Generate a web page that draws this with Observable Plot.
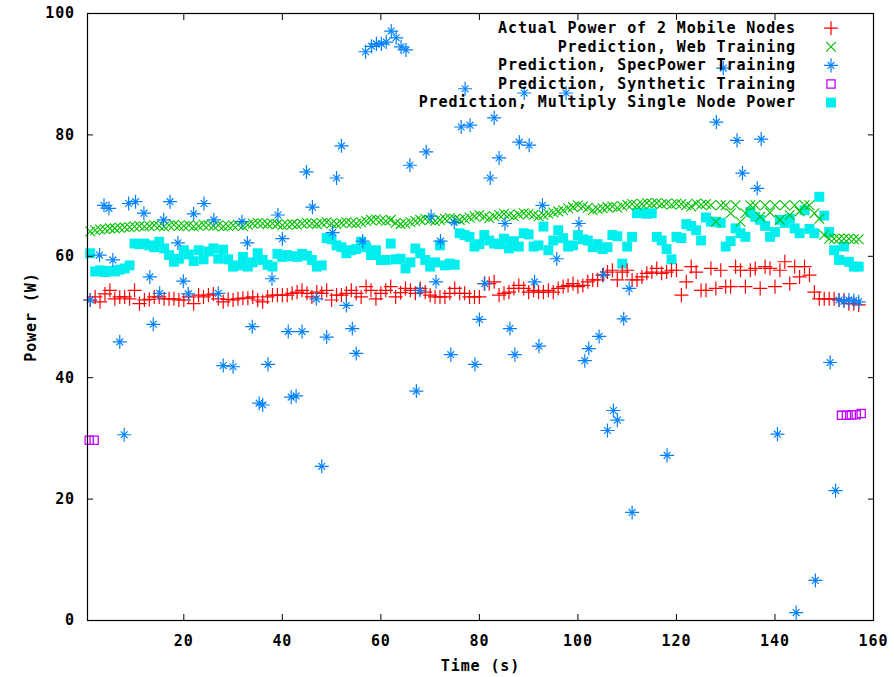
<!DOCTYPE html>
<html>
<head>
<meta charset="utf-8">
<script src="https://cdn.jsdelivr.net/npm/d3@7"></script>
<script src="https://cdn.jsdelivr.net/npm/@observablehq/plot@0.6"></script>
<style>
  html, body { margin: 0; padding: 0; background: #fff; }
  #chart svg text { font-family: "DejaVu Sans Mono", monospace; font-weight: bold; font-size: 15px; letter-spacing: 0.9px; fill: #000; }
</style>
</head>
<body>
<div id="chart"></div>
<script>
// ---- tick labels ----
const xTicks = [20, 40, 60, 80, 100, 120, 140, 160];
const yTicks = [0, 20, 40, 60, 80, 100];

// ---- series names ----
const seriesNames = [
  "Actual Power of 2 Mobile Nodes",
  "Prediction, Web Training",
  "Prediction, SpecPower Training",
  "Prediction, Synthetic Training",
  "Prediction, Multiply Single Node Power"
];

// ---- Actual power (one sample per second, t = 1..157) ----
const actualPower = [
  52.8,53.3,52.5,53.8,54.4,53.0,53.3,53.3,53.0,54.4,52.2,52.8,52.9,53.3,53.3,53.0,
  53.0,53.0,52.8,52.8,53.3,52.2,53.6,53.3,53.6,53.8,53.0,52.5,52.9,52.8,53.0,53.1,
  53.1,53.3,52.8,52.5,53.3,53.6,53.6,53.6,53.6,53.9,54.1,54.4,53.9,53.3,54.1,53.9,
  54.4,52.8,53.6,53.6,53.9,54.4,53.9,53.3,55.0,54.4,53.0,53.9,54.4,55.0,53.3,54.0,
  54.7,54.4,53.9,54.7,54.1,53.6,53.3,53.3,53.3,53.9,54.7,53.9,53.9,53.3,53.3,53.3,
  55.5,55.5,55.8,53.6,53.9,54.1,54.7,55.2,54.7,54.1,54.4,54.1,54.1,54.4,54.1,54.7,
  55.0,55.2,55.5,55.0,55.2,55.8,56.1,56.1,56.9,57.4,57.7,56.1,57.4,57.7,56.1,56.1,
  56.6,57.2,57.4,58.0,57.2,57.4,57.7,57.7,53.6,55.8,58.3,57.4,54.4,54.4,
  58.0,54.7,57.7,55.0,55.0,58.3,57.7,55.0,57.7,58.0,54.7,58.3,58.0,55.0,57.7,59.1,
  55.5,58.3,56.6,58.3,56.9,54.1,53.0,53.0,53.0,53.0,52.8,52.8,52.2,52.2,52.0
];

// ---- Web training prediction (t = 1..157) ----
const webPrediction = [
  64.1,64.3,64.4,64.5,64.6,64.6,64.7,64.8,64.8,64.9,65.0,64.9,65.0,65.1,65.0,64.9,
  65.1,65.2,65.0,65.0,65.1,64.9,65.0,65.2,65.1,65.0,65.1,64.9,65.0,65.1,65.2,65.0,
  65.2,65.4,65.5,65.4,65.3,65.4,65.3,65.1,65.2,65.3,65.2,65.4,65.5,65.4,65.3,65.5,
  65.6,65.4,65.3,65.5,65.6,65.5,65.4,65.6,65.8,66.0,66.1,65.9,65.8,66.0,65.5,65.3,
  65.4,65.6,65.8,66.0,66.2,66.0,65.8,66.0,66.2,66.3,66.1,66.0,66.2,66.4,66.6,66.8,
  66.5,66.3,66.6,66.8,67.0,66.8,66.6,66.9,67.1,67.0,66.8,66.6,66.8,67.0,67.2,67.4,
  67.6,67.9,68.1,68.4,68.2,68.0,67.6,67.8,67.9,68.1,68.2,68.0,68.3,68.5,68.6,68.4,
  68.6,68.8,68.7,68.8,68.6,68.7,68.5,68.7,68.6,68.4,68.2,68.7,68.5,68.6,
  68.4,65.7,68.4,68.4,67.1,68.4,65.7,67.1,68.4,68.4,66.5,68.4,67.2,68.4,66.0,68.4,
  66.8,68.4,67.4,68.4,68.4,67.1,66.2,63.5,62.9,62.9,62.9,62.9,62.9,62.8,62.8
];

// ---- Multiply single node power prediction (t = 1..157) ----
const multiplyPrediction = [
  60.5,57.5,57.7,57.4,57.6,57.5,57.8,58.0,58.5,62.1,62.0,62.1,61.8,61.5,62.4,61.3,
  60.2,59.1,59.6,61.0,60.3,59.2,61.0,59.5,60.8,61.3,59.6,61.1,59.5,58.3,58.5,
  59.9,58.3,59.0,60.5,59.4,58.6,58.3,60.4,59.9,60.2,60.0,59.9,60.4,60.1,59.4,58.3,
  58.5,63.0,62.8,61.8,61.5,60.5,61.0,61.2,62.4,61.5,60.2,61.0,59.4,59.4,62.1,59.5,
  59.6,58.0,59.0,61.3,60.5,59.4,58.3,59.0,61.8,58.5,58.8,58.6,63.8,63.5,63.2,61.6,
  62.0,63.5,62.6,62.1,62.0,62.9,61.3,62.5,61.6,63.8,63.6,61.6,61.8,64.9,61.0,62.6,
  64.3,63.0,61.6,61.8,63.5,62.8,62.6,61.5,62.0,61.2,61.5,63.5,63.3,58.8,61.6,63.2,
  67.1,67.2,67.0,67.1,63.2,62.6,61.2,59.5,63.2,63.0,65.3,65.0,64.3,62.6,66.4,
  65.7,65.7,65.5,61.6,62.5,64.6,63.8,63.2,67.3,66.5,66.0,65.0,63.2,64.0,66.0,65.5,
  66.2,64.6,63.8,67.6,64.5,63.8,69.8,66.7,64.0,61.0,59.4,61.6,59.1,58.3,58.3
];

// ---- SpecPower training prediction (visible points) ----
const specTime = [
  1.0,2.9,3.8,4.8,5.6,7.0,7.9,8.8,10.2,11.9,13.1,13.8,15.1,15.9,17.2,18.8,19.9,20.9,
  22.0,24.1,26.1,27.0,28.0,30.0,31.8,32.9,33.9,35.3,36.0,37.1,37.9,39.1,40.0,41.2,
  41.8,42.8,44.0,44.9,46.1,46.9,48.0,49.0,50.2,51.0,52.0,53.0,54.2,55.0,56.3,
  56.9,58.1,59.1,60.1,61.1,62.1,63.1,64.1,65.1,
  65.9,67.2,67.9,69.2,70.2,71.2,72.1,74.2,74.9,76.3,77.1,78.1,79.1,80.0,81.1,82.2,
  83.0,84.0,85.2,86.2,87.2,88.1,89.1,90.1,91.2,92.1,92.8,95.7,97.6,
  100.2,101.4,102.2,104.3,105.2,106.0,107.2,108.0,109.3,110.4,111.0,118.1,
  128.1,129.5,132.3,133.4,136.4,137.2,140.5,144.3,148.2,151.2,152.3,
  153.0,154.0,155.0,156.0,157.0
];
const specPrediction = [
  52.8,60.2,68.4,67.9,59.4,45.9,30.6,68.7,69.0,67.1,56.6,48.8,53.9,66.0,69.0,62.2,55.9,53.8,
  67.0,68.7,66.0,53.9,42.0,41.8,65.7,62.2,48.4,35.8,35.5,42.2,56.3,66.8,62.9,47.6,
  36.8,37.0,47.6,73.9,68.1,53.0,25.4,46.7,63.9,72.9,78.2,51.9,48.1,44.0,62.5,
  93.7,94.6,95.0,95.0,95.3,97.1,96.0,94.5,94.0,
  75.0,37.8,54.4,77.2,66.6,55.8,62.5,43.8,65.6,81.3,87.6,81.6,42.2,49.6,55.5,72.9,
  82.8,76.2,65.4,48.1,43.8,78.8,86.9,78.3,55.8,45.2,68.4,59.6,86.9,
  65.4,42.8,44.8,46.8,57.0,31.3,34.6,33.0,49.7,54.7,17.8,27.2,
  82.1,91.0,79.1,73.7,71.2,79.3,30.7,1.3,6.6,42.5,21.4,
  52.8,52.6,52.8,52.7,52.5
];

// ---- Synthetic training prediction (visible points) ----
const synthTime = [0.8, 1.8, 153.5, 154.5, 155.5, 156.5, 157.5];
const synthPrediction = [29.7, 29.7, 33.8, 33.8, 33.9, 33.9, 34.1];

// ---- tables ----
const seq = (arr) => arr.map((v, i) => ({t: i + 1, v}));
const actualData = seq(actualPower);
const webData = seq(webPrediction);
const multData = seq(multiplyPrediction);
const specData = specTime.map((t, i) => ({t, v: specPrediction[i]}));
const synthData = synthTime.map((t, i) => ({t, v: synthPrediction[i]}));

const RED = "#ff0000", GREEN = "#00c000", BLUE = "#0080ff", MAGENTA = "#c000ff", CYAN = "#00eeee";
const PLUS_R = 4.6, TIMES_R = 4.5, STAR_X_R = 3.2, SQ_R = 5.6, OSQ_R = 5.2;

// legend marks (placed relative to the frame corner)
const legendX = -77.5, legendSym = -42.5, legendY0 = 14.7, legendStep = 18.6;
const ly = (i) => legendY0 + legendStep * i;
const legendMarks = [];
seriesNames.forEach((name, i) => {
  legendMarks.push(Plot.text([name], {text: d => d, frameAnchor: "top-right", dx: legendX, dy: ly(i), textAnchor: "end", lineAnchor: "middle"}));
});
legendMarks.push(
  Plot.dot([0], {frameAnchor: "top-right", dx: legendSym, dy: ly(0), symbol: "plus", r: PLUS_R, stroke: RED, strokeWidth: 1.2}),
  Plot.dot([0], {frameAnchor: "top-right", dx: legendSym, dy: ly(1), symbol: "times", r: TIMES_R, stroke: GREEN, strokeWidth: 1.1}),
  Plot.dot([0], {frameAnchor: "top-right", dx: legendSym, dy: ly(2), symbol: "plus", r: PLUS_R, stroke: BLUE, strokeWidth: 1.2}),
  Plot.dot([0], {frameAnchor: "top-right", dx: legendSym, dy: ly(2), symbol: "times", r: STAR_X_R, stroke: BLUE, strokeWidth: 1.2}),
  Plot.dot([0], {frameAnchor: "top-right", dx: legendSym, dy: ly(3), symbol: "square2", r: OSQ_R, stroke: MAGENTA, strokeWidth: 1.3}),
  Plot.dot([0], {frameAnchor: "top-right", dx: legendSym, dy: ly(4), symbol: "square", r: SQ_R, fill: CYAN})
);

const chart = Plot.plot({
  width: 894,
  height: 677,
  marginLeft: 87,
  marginRight: 21,
  marginTop: 13,
  marginBottom: 57,
  style: {background: "#fff", overflow: "visible"},
  x: {domain: [0.45, 160]},
  y: {domain: [0, 100]},
  marks: [
    Plot.dot(multData, {x: "t", y: "v", symbol: "square", r: SQ_R, fill: CYAN}),
    Plot.dot(actualData, {x: "t", y: "v", symbol: "plus", r: PLUS_R, stroke: RED, strokeWidth: 1.2}),
    Plot.dot(webData, {x: "t", y: "v", symbol: "times", r: TIMES_R, stroke: GREEN, strokeWidth: 1.1}),
    Plot.dot(specData, {x: "t", y: "v", symbol: "plus", r: PLUS_R, stroke: BLUE, strokeWidth: 1.2}),
    Plot.dot(specData, {x: "t", y: "v", symbol: "times", r: STAR_X_R, stroke: BLUE, strokeWidth: 1.2}),
    Plot.dot(synthData, {x: "t", y: "v", symbol: "square2", r: OSQ_R, stroke: MAGENTA, strokeWidth: 1.3}),
    Plot.axisX({ticks: xTicks, tickSize: -6, tickPadding: 21, label: "Time (s)", labelAnchor: "center", labelOffset: 50, labelArrow: "none"}),
    Plot.axisX({anchor: "top", ticks: xTicks, tickSize: -6, tickFormat: () => "", label: null}),
    Plot.axisY({ticks: yTicks, tickSize: -6, tickPadding: 18.5, label: "Power (W)", labelAnchor: "center", labelOffset: 62, labelArrow: "none"}),
    Plot.axisY({anchor: "right", ticks: yTicks, tickSize: -6, tickFormat: () => "", label: null}),
    Plot.frame({stroke: "#000", strokeWidth: 1.2}),
    ...legendMarks
  ]
});
document.getElementById("chart").appendChild(chart);
</script>
</body>
</html>
